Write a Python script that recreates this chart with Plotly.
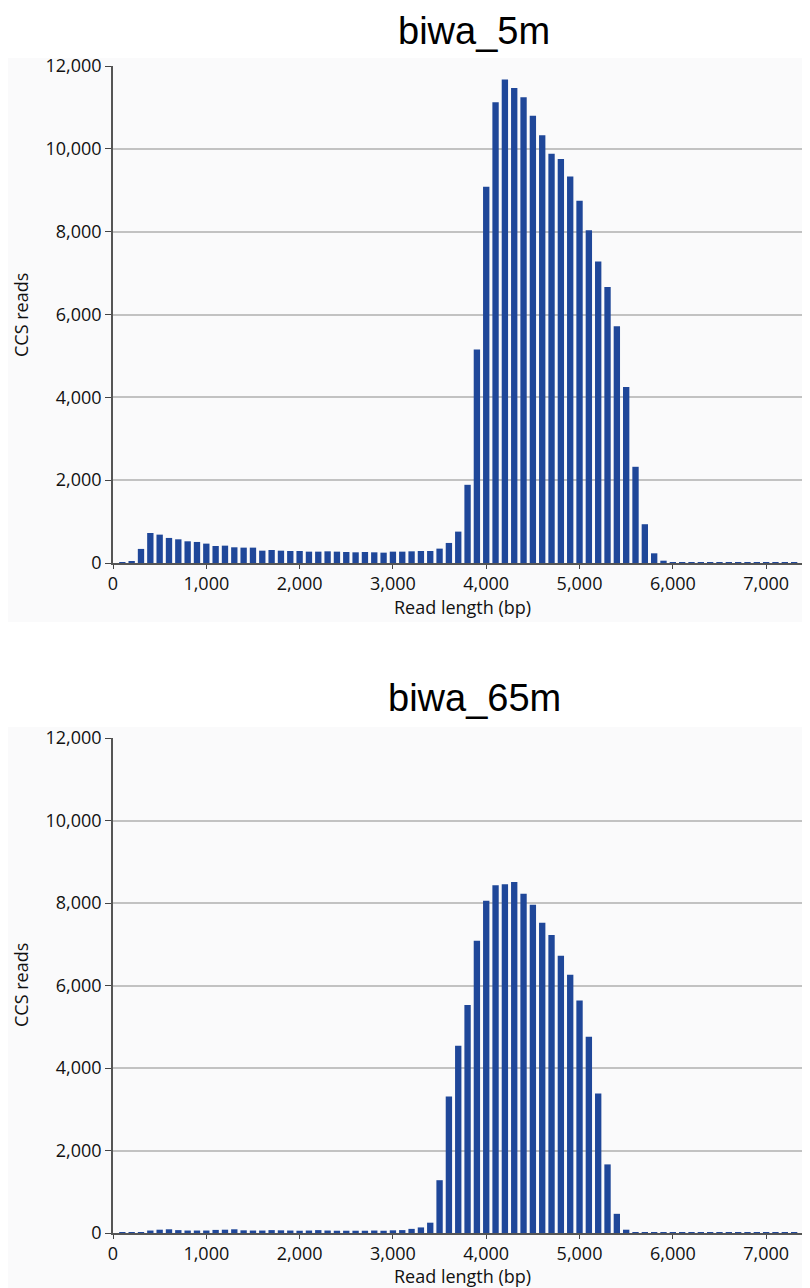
import plotly.graph_objects as go

# Read length bins (bp)
read_length = [100, 200, 300, 400, 500, 600, 700, 800, 900, 1000,
               1100, 1200, 1300, 1400, 1500, 1600, 1700, 1800, 1900, 2000,
               2100, 2200, 2300, 2400, 2500, 2600, 2700, 2800, 2900, 3000,
               3100, 3200, 3300, 3400, 3500, 3600, 3700, 3800, 3900, 4000,
               4100, 4200, 4300, 4400, 4500, 4600, 4700, 4800, 4900, 5000,
               5100, 5200, 5300, 5400, 5500, 5600, 5700, 5800, 5900, 6000,
               6100, 6200, 6300, 6400, 6500, 6600, 6700, 6800, 6900, 7000,
               7100, 7200, 7300]

biwa_5m = [16, 30, 340, 725, 685, 605, 572, 524, 508, 468,
           411, 419, 379, 371, 371, 298, 314, 298, 290, 290,
           274, 274, 282, 274, 266, 258, 266, 258, 250, 274,
           274, 282, 290, 290, 347, 484, 758, 1888, 5155, 9082,
           11125, 11672, 11471, 11245, 10801, 10326, 9881, 9753, 9334, 8744,
           8034, 7277, 6662, 5719, 4252, 2323, 936, 234, 56, 22,
           18, 15, 14, 12, 11, 10, 9, 8, 8, 7,
           6, 5, 4]

biwa_65m = [10, 12, 15, 60, 80, 90, 70, 60, 60, 60,
            75, 80, 90, 65, 60, 60, 70, 65, 60, 55,
            60, 70, 60, 55, 55, 55, 55, 60, 55, 65,
            70, 100, 135, 250, 1280, 3309, 4538, 5526, 7085, 8057,
            8428, 8452, 8507, 8225, 7960, 7519, 7222, 6724, 6258, 5639,
            4755, 3381, 1663, 465, 80, 20, 15, 14, 12, 11,
            10, 9, 9, 8, 8, 7, 7, 6, 6, 5,
            5, 5, 4]

panel_titles = ["biwa_5m", "biwa_65m"]
x_ticks = [0, 1000, 2000, 3000, 4000, 5000, 6000, 7000]
y_ticks = [0, 2000, 4000, 6000, 8000, 10000, 12000]

# page is offset by the browser's 8px body margin
OFF = 8
W, H = 810 - OFF, 1288 - OFF
BAR = "#1f4799"
TICKFONT = dict(family="Open Sans", size=18, color="#111111")

def px(p):
    return (p - OFF) / W

def py(p):
    return (H - (p - OFF)) / H

fig = go.Figure()
fig.add_trace(go.Bar(x=read_length, y=biwa_5m, marker=dict(color=BAR, line=dict(width=0)),
                     width=68, xaxis="x", yaxis="y", showlegend=False))
fig.add_trace(go.Bar(x=read_length, y=biwa_65m, marker=dict(color=BAR, line=dict(width=0)),
                     width=68, xaxis="x2", yaxis="y2", showlegend=False))

xdom = [px(113), 1.0]
common_x = dict(range=[0, 7470], tickvals=x_ticks, tickformat=",", ticks="outside",
                ticklen=4, tickcolor="#444", showline=True, linecolor="#555", linewidth=1.5,
                showgrid=False, zeroline=False, tickfont=TICKFONT, fixedrange=True,
                automargin=False)
common_y = dict(range=[0, 12000], tickvals=y_ticks, tickformat=",", ticks="outside",
                ticklen=6, tickcolor="#444", showline=True, linecolor="#555", linewidth=1.5,
                showgrid=True, gridcolor="#c2c2c2", gridwidth=1.5, zeroline=False,
                tickfont=TICKFONT, fixedrange=True, automargin=False)

fig.update_layout(
    width=W, height=H,
    margin=dict(l=0, r=0, t=0, b=0, pad=0, autoexpand=False),
    paper_bgcolor="white",
    plot_bgcolor="rgba(0,0,0,0)",
    xaxis=dict(domain=xdom, anchor="y", **common_x),
    yaxis=dict(domain=[py(563), py(66)], anchor="x", **common_y),
    xaxis2=dict(domain=xdom, anchor="y2", **common_x),
    yaxis2=dict(domain=[py(1233), py(738)], anchor="x2", **common_y),
    bargap=0.32,
)

# light panel backgrounds
for y0, y1 in [(58, 622), (727, 1288)]:
    fig.add_shape(type="rect", xref="paper", yref="paper", x0=0, x1=1,
                  y0=py(y1), y1=py(y0), fillcolor="#fafafb", line=dict(width=0), layer="below")

annots = []
for title, ty in zip(panel_titles, [31, 698]):
    annots.append(dict(text=title, x=px(474), y=py(ty), xref="paper", yref="paper",
                       showarrow=False, xanchor="center", yanchor="middle",
                       font=dict(family="Liberation Sans, Arial", size=38, color="black")))
for cy in [315, 985]:
    annots.append(dict(text="CCS reads", x=px(21), y=py(cy), xref="paper", yref="paper",
                       showarrow=False, textangle=-90, xanchor="center", yanchor="middle",
                       font=dict(family="Open Sans", size=18, color="#111111")))
for cy in [607, 1276]:
    annots.append(dict(text="Read length (bp)", x=px(462), y=py(cy), xref="paper", yref="paper",
                       showarrow=False, xanchor="center", yanchor="middle",
                       font=dict(family="Open Sans", size=18, color="#111111")))
fig.update_layout(annotations=annots)

fig.write_html("out.html")
